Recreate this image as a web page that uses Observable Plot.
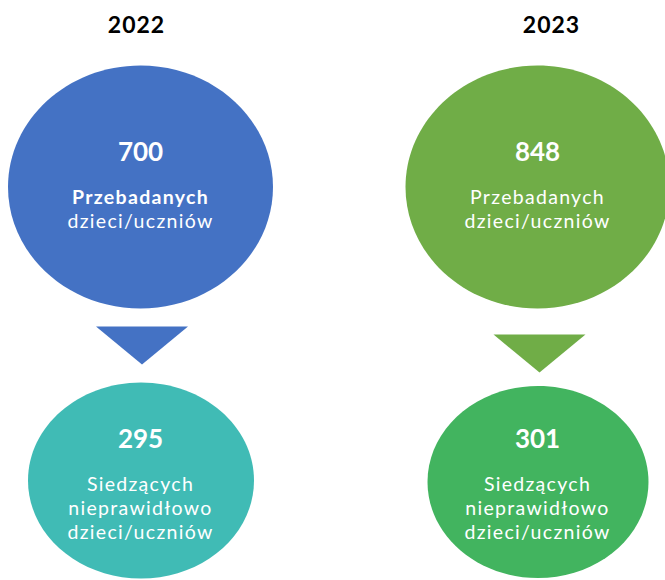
<!DOCTYPE html>
<html><head><meta charset="utf-8">
<script src="https://cdn.jsdelivr.net/npm/d3@7"></script>
<script src="https://cdn.jsdelivr.net/npm/@observablehq/plot@0.6"></script>
<style>
body{margin:0;background:#fff} #chart{width:665px;height:580px}
#chart g[font-size="19.5"] text{letter-spacing:1.3px}
#chart g[font-size="23"] text{letter-spacing:1px}
</style>
</head><body><div id="chart"></div>
<script>
// ---- data ----
const years = ["2022", "2023"];
const tested = [700, 848];
const incorrect = [295, 301];
const testedLines = ["Przebadanych", "dzieci/uczniów"];
const incorrectLines = ["Siedzących", "nieprawidłowo", "dzieci/uczniów"];

const rows = years.map((year, i) => ({year, tested: tested[i], incorrect: incorrect[i]}));

// ---- styles & layout ----
const style = {
  "2022": {top: "#4472C4", arrow: "#4472C4", bottom: "#40BBB5", boldLabel: true},
  "2023": {top: "#70AD47", arrow: "#70AD47", bottom: "#42B45F", boldLabel: false}
};
const geom = {
  "2022": {yearDx: -4, top: {dx: 0, cy: 186.5, rx: 132.5, ry: 121.5}, arrow: {dx: 1.5, y0: 326, h: 38, hw: 46}, bottom: {dx: 0.5, cy: 480, rx: 113, ry: 98}, topText: 152, topLines: [197, 221], botText: 439, botLines: [484, 508, 532]},
  "2023": {yearDx: 14, top: {dx: 0, cy: 186.5, rx: 132, ry: 121.5}, arrow: {dx: 2, y0: 334, h: 38, hw: 46}, bottom: {dx: 0.5, cy: 481.5, rx: 110.5, ry: 96}, topText: 152, topLines: [197, 221], botText: 439, botLines: [484, 508, 532]}
};
const FONT = "Lato";
const LABEL = 19.5;

function ellipseSymbol(rx, ry) {
  const k = 0.5522847;
  return {
    draw(ctx) {
      ctx.moveTo(rx, 0);
      ctx.bezierCurveTo(rx, ry * k, rx * k, ry, 0, ry);
      ctx.bezierCurveTo(-rx * k, ry, -rx, ry * k, -rx, 0);
      ctx.bezierCurveTo(-rx, -ry * k, -rx * k, -ry, 0, -ry);
      ctx.bezierCurveTo(rx * k, -ry, rx, -ry * k, rx, 0);
      ctx.closePath();
    }
  };
}
function downTriangle(hw, h) {
  return {
    draw(ctx) {
      ctx.moveTo(-hw, 0);
      ctx.lineTo(hw, 0);
      ctx.lineTo(0, h);
      ctx.closePath();
    }
  };
}

const marks = [];
for (const year of years) {
  const data = rows.filter(d => d.year === year);
  const g = geom[year], s = style[year];
  // year header
  marks.push(Plot.text(data, {x: "year", y: () => 25.5, dx: g.yearDx, text: "year", fill: "#000", fontSize: 23, fontWeight: "bold", fontFamily: FONT}));
  // top ellipse
  marks.push(Plot.dot(data, {x: "year", y: () => g.top.cy, dx: g.top.dx, r: 10, symbol: ellipseSymbol(g.top.rx, g.top.ry), fill: s.top, stroke: "none"}));
  // arrow
  marks.push(Plot.dot(data, {x: "year", y: () => g.arrow.y0, dx: g.arrow.dx, r: 10, symbol: downTriangle(g.arrow.hw, g.arrow.h), fill: s.arrow, stroke: "none"}));
  // bottom ellipse
  marks.push(Plot.dot(data, {x: "year", y: () => g.bottom.cy, dx: g.bottom.dx, r: 10, symbol: ellipseSymbol(g.bottom.rx, g.bottom.ry), fill: s.bottom, stroke: "none"}));
  // top numbers and labels
  marks.push(Plot.text(data, {x: "year", y: () => g.topText, text: d => String(d.tested), fill: "#fff", fontSize: 26, fontWeight: "bold", fontFamily: FONT}));
  testedLines.forEach((line, i) => {
    marks.push(Plot.text(data, {x: "year", y: () => g.topLines[i], text: () => line, fill: "#fff", fontSize: LABEL, fontWeight: (i === 0 && s.boldLabel) ? "bold" : "normal", fontFamily: FONT}));
  });
  // bottom numbers and labels
  marks.push(Plot.text(data, {x: "year", y: () => g.botText, text: d => String(d.incorrect), fill: "#fff", fontSize: 26, fontWeight: "bold", fontFamily: FONT}));
  incorrectLines.forEach((line, i) => {
    marks.push(Plot.text(data, {x: "year", y: () => g.botLines[i], text: () => line, fill: "#fff", fontSize: LABEL, fontWeight: "normal", fontFamily: FONT}));
  });
}

const chart = Plot.plot({
  width: 665,
  height: 580,
  margin: 0,
  style: {background: "#fff", fontFamily: FONT},
  x: {type: "point", domain: years, range: [139.5, 537], padding: 0, axis: null},
  y: {type: "linear", domain: [0, 580], range: [0, 580], axis: null},
  marks
});
document.getElementById("chart").appendChild(chart);
</script>
</body></html>
